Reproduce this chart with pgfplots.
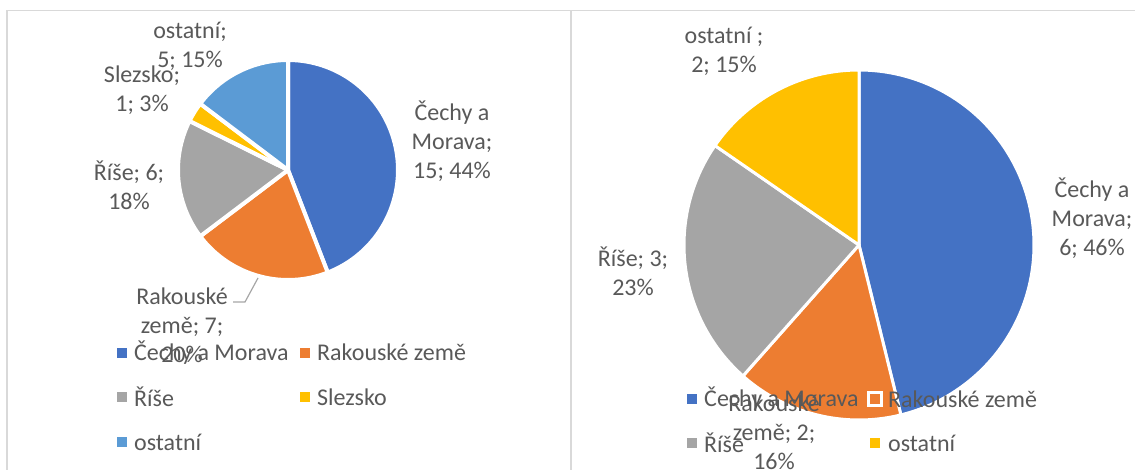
\documentclass[border=0pt]{standalone}
\usepackage{pgfplots}
\pgfplotsset{compat=1.18}
\usepackage{fontspec}
\setmainfont{Carlito}
\definecolor{cBlue}{HTML}{4472C4}
\definecolor{cOrange}{HTML}{ED7D31}
\definecolor{cGray}{HTML}{A5A5A5}
\definecolor{cYellow}{HTML}{FFC000}
\definecolor{cLBlue}{HTML}{5B9BD5}
\definecolor{txt}{HTML}{595959}
\definecolor{frame}{HTML}{D9D9D9}
\newcommand\bigf{\fontsize{24bp}{29bp}\selectfont}
\tikzset{lab/.style={text=txt,font=\bigf,inner sep=0pt}}
\begin{document}
\begin{tikzpicture}
% ---- data: left chart (Čechy a Morava, Rakouské země, Říše, Slezsko, ostatní)
\def\LCM{15}\def\LRZ{7}\def\LRI{6}\def\LSL{1}\def\LOS{5}
% ---- data: right chart (Čechy a Morava, Rakouské země, Říše, ostatní)
\def\RCM{6}\def\RRZ{2}\def\RRI{3}\def\ROS{2}
\pgfmathsetmacro\LT{\LCM+\LRZ+\LRI+\LSL+\LOS}
\pgfmathsetmacro\La{360*\LCM/\LT}
\pgfmathsetmacro\Lb{\La+360*\LRZ/\LT}
\pgfmathsetmacro\Lc{\Lb+360*\LRI/\LT}
\pgfmathsetmacro\Ld{\Lc+360*\LSL/\LT}
\pgfmathsetmacro\RT{\RCM+\RRZ+\RRI+\ROS}
\pgfmathsetmacro\Ra{360*\RCM/\RT}
\pgfmathsetmacro\Rb{\Ra+360*\RRZ/\RT}
\pgfmathsetmacro\Rc{\Rb+360*\RRI/\RT}
\begin{axis}[width=1135bp,height=470bp,scale only axis,
  xmin=0,xmax=1135,ymin=0,ymax=470,y dir=reverse,hide axis,clip=false]
% frames
\draw[frame,line width=1.4bp] (7,470) -- (7,10.7) -- (1135,10.7);
\draw[frame,line width=1.4bp] (571,10.7) -- (571,470);
% ---- left pie
\pgfplotsset{lw/.style={draw=white,line width=4bp,line join=round,samples=90}}
\addplot[lw,fill=cBlue,domain=0:\La] ({288+110*sin(x)},{170-110*cos(x)}) -- (288,170) -- cycle;
\addplot[lw,fill=cOrange,domain=\La:\Lb] ({288+110*sin(x)},{170-110*cos(x)}) -- (288,170) -- cycle;
\addplot[lw,fill=cGray,domain=\Lb:\Lc] ({288+110*sin(x)},{170-110*cos(x)}) -- (288,170) -- cycle;
\addplot[lw,fill=cYellow,domain=\Lc:\Ld] ({288+110*sin(x)},{170-110*cos(x)}) -- (288,170) -- cycle;
\addplot[lw,fill=cLBlue,domain=\Ld:360] ({288+110*sin(x)},{170-110*cos(x)}) -- (288,170) -- cycle;
% ---- right pie
\pgfplotsset{rw/.style={draw=white,line width=3bp,line join=round,samples=120}}
\addplot[rw,fill=cBlue,domain=0:\Ra] ({859+175*sin(x)},{245-175*cos(x)}) -- (859,245) -- cycle;
\addplot[rw,fill=cOrange,domain=\Ra:\Rb] ({859+175*sin(x)},{245-175*cos(x)}) -- (859,245) -- cycle;
\addplot[rw,fill=cGray,domain=\Rb:\Rc] ({859+175*sin(x)},{245-175*cos(x)}) -- (859,245) -- cycle;
\addplot[rw,fill=cYellow,domain=\Rc:360] ({859+175*sin(x)},{245-175*cos(x)}) -- (859,245) -- cycle;
% ---- left legend
\addplot[only marks,mark=square*,mark size=4.5bp,color=cBlue] coordinates {(122,352.5)};
\addplot[only marks,mark=square*,mark size=4.5bp,color=cOrange] coordinates {(305,352.5)};
\addplot[only marks,mark=square*,mark size=4.5bp,color=cGray] coordinates {(122,397)};
\addplot[only marks,mark=square*,mark size=4.5bp,color=cYellow] coordinates {(305,397)};
\addplot[only marks,mark=square*,mark size=4.5bp,color=cLBlue] coordinates {(122,442)};
\node[lab,anchor=west] at (134,352.5) {Čechy a Morava};
\node[lab,anchor=west] at (317,352.5) {Rakouské země};
\node[lab,anchor=west] at (134,397) {Říše};
\node[lab,anchor=west] at (317,397) {Slezsko};
\node[lab,anchor=west] at (134,442) {ostatní};
% ---- right legend
\addplot[only marks,mark=square*,mark size=4.5bp,color=cBlue] coordinates {(692,399)};
\addplot[only marks,mark=square*,mark size=6.5bp,mark options={fill=cOrange,draw=white,line width=2.5bp}] coordinates {(875,399)};
\addplot[only marks,mark=square*,mark size=4.5bp,color=cGray] coordinates {(692,443)};
\addplot[only marks,mark=square*,mark size=4.5bp,color=cYellow] coordinates {(875,443)};
\node[lab,anchor=west] at (704,399) {Čechy a Morava};
\node[lab,anchor=west] at (888,399) {Rakouské země};
\node[lab,anchor=west] at (704,443) {Říše};
\node[lab,anchor=west] at (888,443) {ostatní};
% ---- left data labels
\node[lab,align=center] at (190,46) {ostatní;\\5; 15\%};
\node[lab,align=center] at (142,90.5) {Slezsko;\\1; 3\%};
\node[lab,align=center] at (129,185.5) {Říše; 6;\\18\%};
\node[lab,align=center] at (452,141) {Čechy a\\Morava;\\15; 44\%};
\node[lab,align=center] at (182,325) {Rakouské\\země; 7;\\20\%};
\draw[color=black!35,line width=1.2bp] (233,302) -- (245,302) -- (258,278);
% ---- right data labels
\node[lab,align=center] at (724,51) {ostatní ;\\2; 15\%};
\node[lab,align=center] at (633,271) {Říše; 3;\\23\%};
\node[lab,align=center] at (1092,218) {Čechy a\\Morava;\\6; 46\%};
\node[lab,align=center] at (774,432) {Rakouské\\země; 2;\\16\%};
\end{axis}
\pgfresetboundingbox
\path (current axis.south west) rectangle (current axis.north east);
\end{tikzpicture}
\end{document}
